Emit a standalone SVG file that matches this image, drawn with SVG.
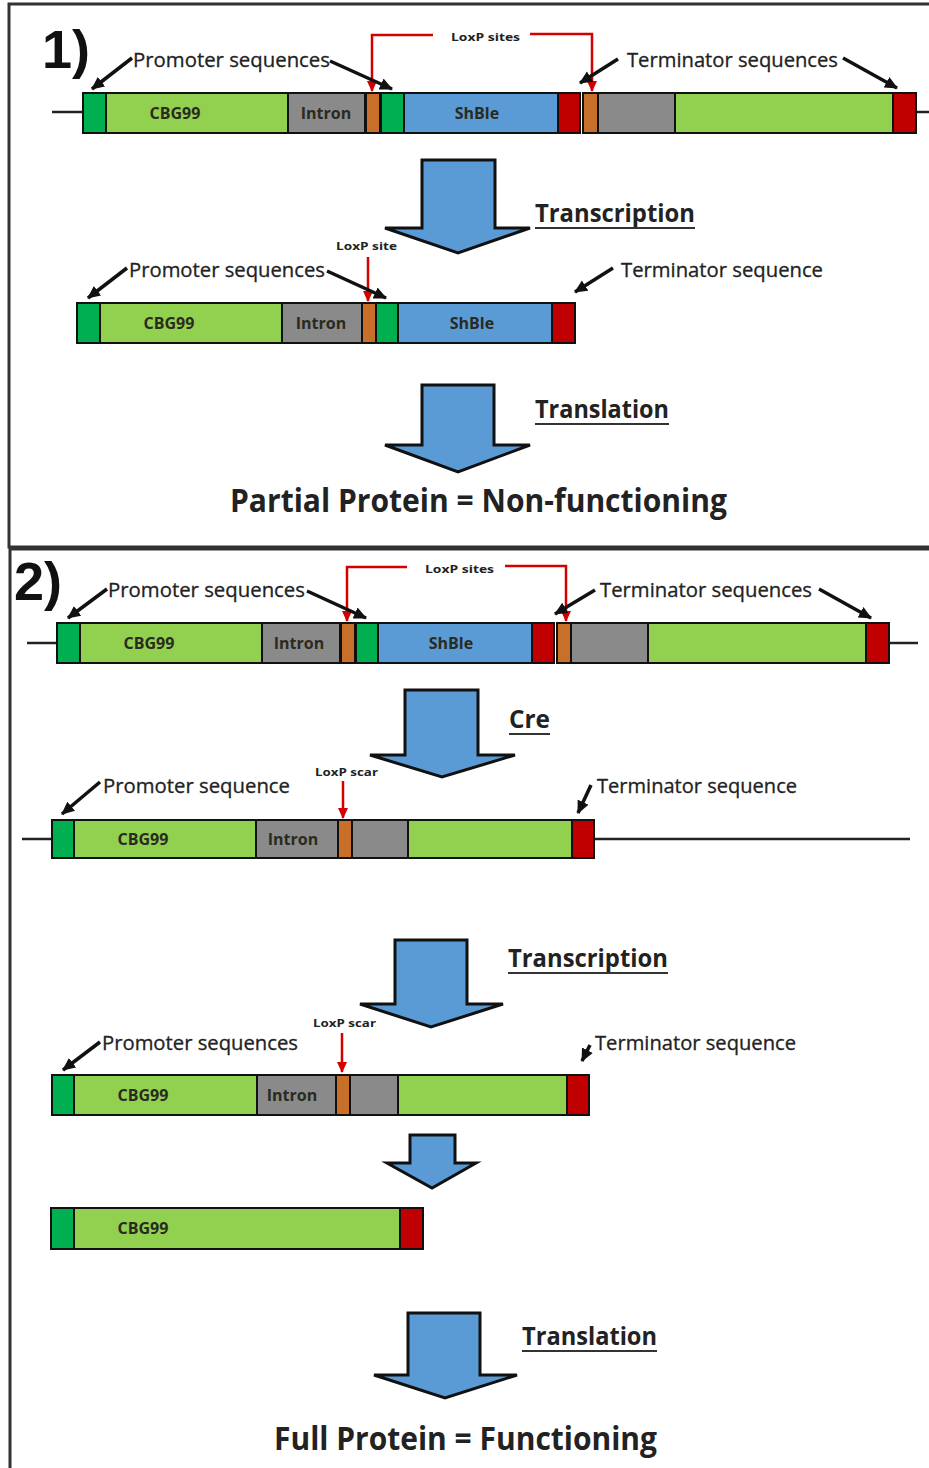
<svg xmlns="http://www.w3.org/2000/svg" width="929" height="1468" viewBox="0 0 929 1468">
<style>
.bg{fill:#ffffff}
.panel{fill:none;stroke:#333;stroke-width:3}
.dg{fill:#00b050;stroke:#111;stroke-width:2}
.lg{fill:#92d050;stroke:#111;stroke-width:2}
.gy{fill:#8a8a8a;stroke:#111;stroke-width:2}
.or{fill:#c8702a;stroke:#111;stroke-width:2}
.bl{fill:#5b9bd5;stroke:#111;stroke-width:2}
.rd{fill:#c00000;stroke:#111;stroke-width:2}
.dna{stroke:#222;stroke-width:2.5;fill:none}
.seg{font-family:"Open Sans","Liberation Sans",sans-serif;font-weight:bold;font-size:16px;fill:#2a2a20;text-anchor:middle}
.lab{font-family:"Open Sans","Liberation Sans",sans-serif;font-size:20px;fill:#222;stroke:#222;stroke-width:0.3}
.small{font-family:"Open Sans","Liberation Sans",sans-serif;font-weight:bold;font-size:11px;fill:#222}
.step{font-family:"Open Sans","Liberation Sans",sans-serif;font-weight:bold;font-size:25px;fill:#222}
.big{font-family:"Open Sans","Liberation Sans",sans-serif;font-weight:bold;font-size:32px;fill:#222}
.num{font-family:"Liberation Sans",sans-serif;font-weight:bold;font-size:54px;fill:#111}
.ul{stroke:#333;stroke-width:2}
.blk{fill:#5b9bd5;stroke:#111;stroke-width:3;stroke-linejoin:miter}
.barr{stroke:#111;stroke-width:3.5;fill:none;marker-end:url(#ah)}
.rarr{stroke:#d40000;stroke-width:2.5;fill:none;marker-end:url(#rh)}
</style>
<defs>
<marker id="ah" markerUnits="userSpaceOnUse" markerWidth="14" markerHeight="14" viewBox="0 0 14 14" refX="12" refY="7" orient="auto">
<path d="M0,1 L13,7 L0,13 Z" fill="#111"/>
</marker>
<marker id="rh" markerUnits="userSpaceOnUse" markerWidth="12" markerHeight="12" viewBox="0 0 12 12" refX="10" refY="6" orient="auto">
<path d="M0,1 L11,6 L0,11 Z" fill="#d40000"/>
</marker>
</defs>
<rect class="bg" x="0" y="0" width="929" height="1468"/>

<g id="panels">
<rect class="panel" x="9" y="4" width="940" height="543"/>
<rect class="panel" x="10" y="549" width="940" height="940"/>
</g>

<g id="p1-title"><text class="num" x="42" y="68">1)</text></g>

<g id="construct1">
<line class="dna" x1="52" y1="112" x2="83" y2="112"/>
<line class="dna" x1="916" y1="112" x2="929" y2="112"/>
<rect class="dg" x="83" y="93" width="23" height="40"/>
<rect class="lg" x="106" y="93" width="182" height="40"/>
<rect class="gy" x="288" y="93" width="77" height="40"/>
<rect class="or" x="366" y="93" width="14" height="40"/>
<rect class="dg" x="381" y="93" width="23" height="40"/>
<rect class="bl" x="404" y="93" width="154" height="40"/>
<rect class="rd" x="558" y="93" width="22" height="40"/>
<rect class="or" x="583" y="93" width="15" height="40"/>
<rect class="gy" x="598" y="93" width="77" height="40"/>
<rect class="lg" x="675" y="93" width="218" height="40"/>
<rect class="rd" x="893" y="93" width="23" height="40"/>
<text class="seg" x="175" y="119">CBG99</text>
<text class="seg" x="326" y="119">Intron</text>
<text class="seg" x="477" y="119">ShBle</text>
</g>

<g id="labels1">
<text class="lab" x="133" y="67" textLength="197" lengthAdjust="spacingAndGlyphs">Promoter sequences</text>
<text class="lab" x="627" y="67" textLength="211" lengthAdjust="spacingAndGlyphs">Terminator sequences</text>
<text class="small" x="451" y="41" textLength="69" lengthAdjust="spacingAndGlyphs">LoxP sites</text>
</g>

<g id="arrow-transcription1">
<path class="blk" d="M422,160 L495,160 L495,228 L530,228 L458,253 L385,228 L422,228 Z"/>
<text class="step" x="535" y="222" textLength="160" lengthAdjust="spacingAndGlyphs">Transcription</text>
<line class="ul" x1="535" y1="228" x2="695" y2="228"/>
</g>

<g id="construct2">
<rect class="dg" x="77" y="303" width="23" height="40"/>
<rect class="lg" x="100" y="303" width="182" height="40"/>
<rect class="gy" x="282" y="303" width="80" height="40"/>
<rect class="or" x="362" y="303" width="14" height="40"/>
<rect class="dg" x="376" y="303" width="22" height="40"/>
<rect class="bl" x="398" y="303" width="154" height="40"/>
<rect class="rd" x="552" y="303" width="23" height="40"/>
<text class="seg" x="169" y="329">CBG99</text>
<text class="seg" x="321" y="329">Intron</text>
<text class="seg" x="472" y="329">ShBle</text>
</g>

<g id="labels2">
<text class="small" x="336" y="250" textLength="61" lengthAdjust="spacingAndGlyphs">LoxP site</text>
<text class="lab" x="129" y="277" textLength="196" lengthAdjust="spacingAndGlyphs">Promoter sequences</text>
<text class="lab" x="621" y="277" textLength="202" lengthAdjust="spacingAndGlyphs">Terminator sequence</text>
</g>

<g id="arrow-translation1">
<path class="blk" d="M422,385 L494,385 L494,445 L530,445 L458,472 L385,445 L422,445 Z"/>
<text class="step" x="535" y="418" textLength="134" lengthAdjust="spacingAndGlyphs">Translation</text>
<line class="ul" x1="535" y1="424" x2="669" y2="424"/>
</g>

<g id="result1">
<text class="big" x="230" y="512" textLength="497" lengthAdjust="spacingAndGlyphs">Partial Protein = Non-functioning</text>
</g>

<g id="p2-title"><text class="num" x="14" y="600" font-size="50">2)</text></g>

<g id="construct3">
<line class="dna" x1="27" y1="643" x2="57" y2="643"/>
<line class="dna" x1="889" y1="643" x2="918" y2="643"/>
<rect class="dg" x="57" y="623" width="23" height="40"/>
<rect class="lg" x="80" y="623" width="182" height="40"/>
<rect class="gy" x="262" y="623" width="78" height="40"/>
<rect class="or" x="341" y="623" width="14" height="40"/>
<rect class="dg" x="356" y="623" width="22" height="40"/>
<rect class="bl" x="378" y="623" width="154" height="40"/>
<rect class="rd" x="532" y="623" width="22" height="40"/>
<rect class="or" x="557" y="623" width="14" height="40"/>
<rect class="gy" x="571" y="623" width="77" height="40"/>
<rect class="lg" x="648" y="623" width="218" height="40"/>
<rect class="rd" x="866" y="623" width="23" height="40"/>
<text class="seg" x="149" y="649">CBG99</text>
<text class="seg" x="299" y="649">Intron</text>
<text class="seg" x="451" y="649">ShBle</text>
</g>

<g id="labels3">
<text class="small" x="425" y="573" textLength="69" lengthAdjust="spacingAndGlyphs">LoxP sites</text>
<text class="lab" x="108" y="597" textLength="197" lengthAdjust="spacingAndGlyphs">Promoter sequences</text>
<text class="lab" x="600" y="597" textLength="212" lengthAdjust="spacingAndGlyphs">Terminator sequences</text>
</g>

<g id="arrow-cre">
<path class="blk" d="M405,690 L478,690 L478,755 L515,755 L442,777 L370,755 L405,755 Z"/>
<text class="step" x="509" y="728" textLength="41" lengthAdjust="spacingAndGlyphs">Cre</text>
<line class="ul" x1="509" y1="734" x2="550" y2="734"/>
</g>

<g id="construct4">
<line class="dna" x1="22" y1="839" x2="52" y2="839"/>
<line class="dna" x1="594" y1="839" x2="910" y2="839"/>
<rect class="dg" x="52" y="820" width="22" height="38"/>
<rect class="lg" x="74" y="820" width="182" height="38"/>
<rect class="gy" x="256" y="820" width="82" height="38"/>
<rect class="or" x="338" y="820" width="14" height="38"/>
<rect class="gy" x="352" y="820" width="56" height="38"/>
<rect class="lg" x="408" y="820" width="164" height="38"/>
<rect class="rd" x="572" y="820" width="22" height="38"/>
<text class="seg" x="143" y="845">CBG99</text>
<text class="seg" x="293" y="845">Intron</text>
</g>

<g id="labels4">
<text class="small" x="315" y="776" textLength="63" lengthAdjust="spacingAndGlyphs">LoxP scar</text>
<text class="lab" x="103" y="793" textLength="187" lengthAdjust="spacingAndGlyphs">Promoter sequence</text>
<text class="lab" x="597" y="793" textLength="200" lengthAdjust="spacingAndGlyphs">Terminator sequence</text>
</g>

<g id="arrow-transcription2">
<path class="blk" d="M395,940 L467,940 L467,1004 L503,1004 L431,1027 L360,1004 L395,1004 Z"/>
<text class="step" x="508" y="967" textLength="160" lengthAdjust="spacingAndGlyphs">Transcription</text>
<line class="ul" x1="508" y1="973" x2="668" y2="973"/>
</g>

<g id="construct5">
<rect class="dg" x="52" y="1075" width="22" height="40"/>
<rect class="lg" x="74" y="1075" width="183" height="40"/>
<rect class="gy" x="257" y="1075" width="79" height="40"/>
<rect class="or" x="336" y="1075" width="14" height="40"/>
<rect class="gy" x="350" y="1075" width="48" height="40"/>
<rect class="lg" x="398" y="1075" width="169" height="40"/>
<rect class="rd" x="567" y="1075" width="22" height="40"/>
<text class="seg" x="143" y="1101">CBG99</text>
<text class="seg" x="292" y="1101">Intron</text>
</g>

<g id="labels5">
<text class="small" x="313" y="1027" textLength="63" lengthAdjust="spacingAndGlyphs">LoxP scar</text>
<text class="lab" x="102" y="1050" textLength="196" lengthAdjust="spacingAndGlyphs">Promoter sequences</text>
<text class="lab" x="595" y="1050" textLength="201" lengthAdjust="spacingAndGlyphs">Terminator sequence</text>
</g>

<g id="arrow-splice">
<path class="blk" d="M410,1135 L455,1135 L455,1163 L476,1163 L432,1188 L387,1163 L410,1163 Z"/>
</g>

<g id="construct6">
<rect class="dg" x="51" y="1208" width="23" height="41"/>
<rect class="lg" x="74" y="1208" width="326" height="41"/>
<rect class="rd" x="400" y="1208" width="23" height="41"/>
<text class="seg" x="143" y="1234">CBG99</text>
</g>

<g id="arrow-translation2">
<path class="blk" d="M408,1313 L480,1313 L480,1375 L517,1375 L445,1398 L374,1375 L408,1375 Z"/>
<text class="step" x="522" y="1345" textLength="135" lengthAdjust="spacingAndGlyphs">Translation</text>
<line class="ul" x1="522" y1="1351" x2="657" y2="1351"/>
</g>

<g id="result2">
<text class="big" x="274" y="1450" textLength="383" lengthAdjust="spacingAndGlyphs">Full Protein = Functioning</text>
</g>

<g id="connectors">
<polyline class="rarr" points="433,35 372,35 372,91"/>
<polyline class="rarr" points="530,34 592,34 592,91"/>
<line class="rarr" x1="368" y1="257" x2="368" y2="301"/>
<polyline class="rarr" points="407,567 347,567 347,621"/>
<polyline class="rarr" points="505,566 566,566 566,621"/>
<line class="rarr" x1="343" y1="781" x2="343" y2="818"/>
<line class="rarr" x1="342" y1="1033" x2="342" y2="1072"/>

<line class="barr" x1="132" y1="58" x2="92" y2="89"/>
<line class="barr" x1="330" y1="61" x2="392" y2="89"/>
<line class="barr" x1="618" y1="59" x2="580" y2="83"/>
<line class="barr" x1="843" y1="58" x2="897" y2="88"/>
<line class="barr" x1="127" y1="268" x2="88" y2="298"/>
<line class="barr" x1="327" y1="271" x2="386" y2="298"/>
<line class="barr" x1="613" y1="268" x2="575" y2="292"/>
<line class="barr" x1="107" y1="589" x2="68" y2="618"/>
<line class="barr" x1="307" y1="591" x2="366" y2="618"/>
<line class="barr" x1="595" y1="590" x2="555" y2="614"/>
<line class="barr" x1="819" y1="589" x2="871" y2="618"/>
<line class="barr" x1="100" y1="782" x2="62" y2="814"/>
<line class="barr" x1="591" y1="785" x2="578" y2="813"/>
<line class="barr" x1="100" y1="1042" x2="63" y2="1070"/>
<line class="barr" x1="590" y1="1045" x2="582" y2="1061"/>
</g>
</svg>
